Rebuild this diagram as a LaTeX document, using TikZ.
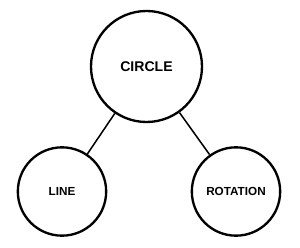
\documentclass[tikz,border=0pt]{standalone}
\usepackage{fontspec}
\setmainfont{Liberation Sans}
\usepackage{tikz}
\usetikzlibrary{positioning}

\begin{document}
\begin{tikzpicture}[
  x=0.03cm, y=-0.03cm,
  topic/.style={circle, draw=black, fill=white, line width=2pt, align=center, font=\bfseries},
  bigtopic/.style={topic, minimum size=3.33cm, font=\fontsize{12}{14}\selectfont\bfseries},
  subtopic/.style={topic, minimum size=2.65cm, font=\fontsize{10}{12}\selectfont\bfseries},
  link/.style={line width=1.3pt, color=black}
]
\useasboundingbox (0, 0) rectangle (300, 248);

% Main Concept
\node[bigtopic] (circ) at (146.5, 66.5) {CIRCLE};

% Sub Concepts
\node[subtopic] (line) at (62, 191.5) {LINE};
\node[subtopic] (rot) at (236, 191.5) {ROTATION};

% Connectors
\draw[link] (circ) -- (line);
\draw[link] (circ) -- (rot);

\end{tikzpicture}
\end{document}
